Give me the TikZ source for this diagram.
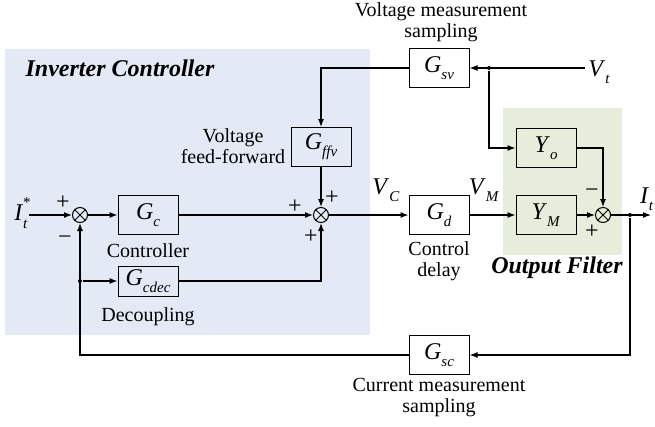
\documentclass[tikz,border=0pt]{standalone}
\usepackage{fontspec}
\setmainfont{Liberation Serif}
\usepackage{xcolor}
\usetikzlibrary{arrows.meta, positioning, calc}

\definecolor{ctrlblue}{RGB}{228,234,245}
\definecolor{filtgreen}{RGB}{230,237,218}

\newcommand{\tfun}[2]{\textit{#1}\raisebox{-0.3em}{\fontsize{15}{15}\selectfont\textit{#2}}}

\tikzset{
    block/.style={draw, line width=1pt, minimum width=60pt, minimum height=39pt, inner sep=0pt, font=\fontsize{24}{24}\selectfont},
    sumnode/.style={draw, circle, line width=1pt, minimum size=15pt, inner sep=0pt,
        path picture={\draw[line width=0.9pt] (path picture bounding box.north west) -- (path picture bounding box.south east)
            (path picture bounding box.north east) -- (path picture bounding box.south west);}},
    sign/.style={inner sep=0pt, font=\fontsize{24}{24}\selectfont},
    note/.style={align=center, inner sep=0pt, font=\fontsize{20}{21}\selectfont},
    title/.style={inner sep=0pt, font=\fontsize{24}{24}\selectfont\bfseries\itshape},
    sig/.style={inner sep=1pt, font=\fontsize{24}{24}\selectfont},
    dot/.style={circle, fill, inner sep=0pt, minimum size=4pt}
}

\begin{document}
\begin{tikzpicture}[x=1pt, y=-1pt, line width=1.1pt, >={Latex[length=8pt,width=6pt]}]
    \useasboundingbox (0,0) rectangle (655,426);

    % Shaded regions
    \fill[ctrlblue] (5,49) rectangle (370,335);
    \fill[filtgreen] (503,108) rectangle (622,255);

    % Region titles
    \node[title] (ctrltitle) at (120,68) {Inverter Controller};
    \node[title] (filttitle) at (557,268) {Output Filter};

    % Summing junctions
    \node[sumnode] (s1) at (80,215) {};
    \node[sumnode] (s2) at (321,215) {};
    \node[sumnode] (s3) at (603,215) {};

    % Blocks
    \node[block] (gc) at (148,215) {\tfun{G}{c}};
    \node[block, minimum height=30pt] (gcdec) at (148,281) {\tfun{G}{cdec}};
    \node[block] (gffv) at (321,147) {\tfun{G}{ffv}};
    \node[block] (gsv) at (439,68) {\tfun{G}{sv}};
    \node[block] (gd) at (439,215) {\tfun{G}{d}};
    \node[block] (yo) at (546,148) {\tfun{Y}{o}};
    \node[block] (ym) at (546,215) {\tfun{Y}{M}};
    \node[block] (gsc) at (439,355) {\tfun{G}{sc}};

    % Signals
    \node[sig] (itref) at (21,213) {\textit{I}\rlap{\raisebox{0.55em}{\fontsize{15}{15}\selectfont *}}\raisebox{-0.3em}{\fontsize{15}{15}\selectfont\textit{t}}};
    \node[sig] (vt) at (599,72) {\tfun{V}{t}};
    \node[sig] (vc) at (386,190) {\tfun{V}{C}};
    \node[sig] (vm) at (484,190) {\tfun{V}{M}};
    \node[sig, anchor=east] (itout) at (655,199) {\tfun{I}{t}};
    \coordinate (vtend) at (585,68);
    \coordinate (itend) at (651,215);

    % Branch points
    \node[dot] (jv) at (489,68) {};
    \node[dot] (jo) at (630,215) {};
    \node[dot] (jd) at (80,281) {};

    % Forward path
    \draw[->] (itref.east |- s1) -- (s1);
    \draw[->] (s1) -- (gc);
    \draw[->] (gc) -- (s2);
    \draw[->] (s2) -- (gd);
    \draw[->] (gd) -- (ym);
    \draw[->] (ym) -- (s3);
    \draw[->] (s3) -- (itend);

    % Voltage feed-forward path
    \draw[->] (vtend) -- (gsv);
    \draw[->] (gsv) -| (gffv);
    \draw[->] (gffv) -- (s2);
    \draw[->] (jv) |- (yo);
    \draw[->] (yo) -| (s3);

    % Current feedback and decoupling
    \draw[->] (jo) |- (gsc);
    \draw[->] (gsc) -| (s1);
    \draw[->] (jd) -- (gcdec);
    \draw[->] (gcdec) -| (s2);

    % Signs
    \node[sign] (p1) at (63,203) {+};
    \node[sign] (m1) at (65,240) {\char"2212};
    \node[sign] (p2) at (295,207) {+};
    \node[sign] (p3) at (332,198) {+};
    \node[sign] (p4) at (311,237) {+};
    \node[sign] (m3) at (592,193) {\char"2212};
    \node[sign] (p5) at (592,232) {+};

    % Labels
    \node[note] (vmeas) at (441,22) {Voltage measurement\\sampling};
    \node[note] (ffwd) at (233,146) {Voltage\\feed-forward};
    \node[note] (ctrl) at (148,251) {Controller};
    \node[note] (decp) at (148,317) {Decoupling};
    \node[note] (delay) at (439,261) {Control\\delay};
    \node[note] (cmeas) at (439,398) {Current measurement\\sampling};
\end{tikzpicture}
\end{document}
